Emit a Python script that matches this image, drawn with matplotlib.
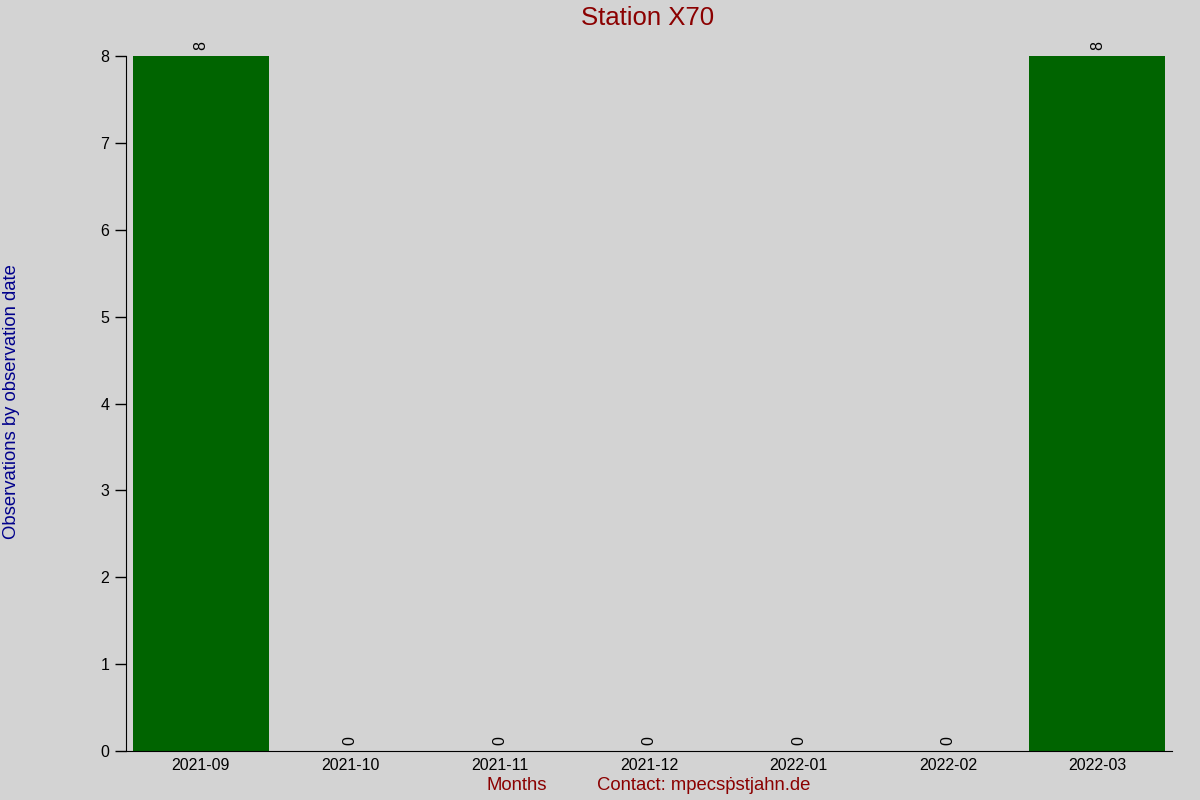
import matplotlib
matplotlib.use("Agg")
import matplotlib.pyplot as plt

months = ["2021-09", "2021-10", "2021-11", "2021-12", "2022-01", "2022-02", "2022-03"]
counts = [8, 0, 0, 0, 0, 0, 8]

plt.rcParams['font.family'] = ['Liberation Sans', 'DejaVu Sans']

fig = plt.figure(figsize=(12, 8), dpi=100, facecolor='#d3d3d3')
ax = fig.add_axes([126 / 1200, 49 / 800, 1046 / 1200, 695 / 800])
ax.set_facecolor('#d3d3d3')

x = range(len(months))
ax.bar(x, counts, width=0.91, color='#006400')
for i, v in zip(x, counts):
    ax.text(i, v + 0.07, str(v), rotation=90, ha='center', va='bottom', fontsize=11.5)

ax.set_xlim(-0.5, 6.5)
ax.set_ylim(0, 8)
ax.set_xticks(list(x))
ax.set_xticklabels(months, fontsize=11.5)
ax.tick_params(axis='y', labelsize=11.5, length=8, width=1, pad=4)
ax.tick_params(axis='x', length=0, pad=5)
ax.spines['top'].set_visible(False)
ax.spines['right'].set_visible(False)
ax.spines['left'].set_bounds(0, 8)

fig.text(0.54, 0.977, "Station X70", color='#8b0000', fontsize=18.5, ha='center', va='center')
fig.text(0.0095, 0.4975, "Observations by observation date", color='#00008b', fontsize=13.3,
         rotation=90, ha='center', va='center')
fig.text(517 / 1200, 1 - 786 / 800, "Months", color='#8b0000', fontsize=13.3, ha='center', va='center')
fig.text(704 / 1200, 1 - 786 / 800, "Contact: mpecsṗstjahn.de", color='#8b0000', fontsize=13.3,
         ha='center', va='center')

fig.savefig("out.png", dpi=100, facecolor=fig.get_facecolor())
